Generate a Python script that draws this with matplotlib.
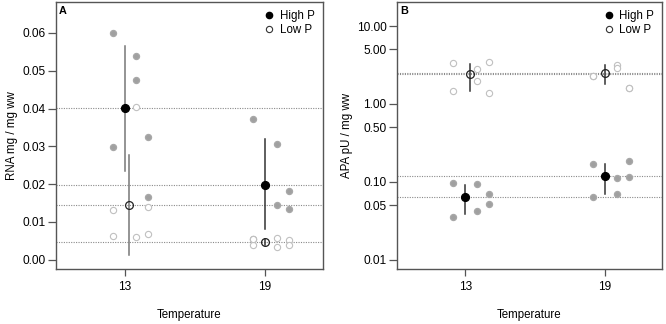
import matplotlib
matplotlib.use('Agg')
import matplotlib.pyplot as plt
from matplotlib.ticker import FixedLocator, FixedFormatter
import numpy as np

plt.rcParams['font.family'] = ['Liberation Sans', 'DejaVu Sans']
plt.rcParams['font.size'] = 8.6

# x positions of temperature groups and their labels
temps = ['13', '19']
temp_pos = [1, 2]
jitter = [-0.085, -0.085, 0.085, 0.085, 0.17, 0.17]

# Panel A: RNA mg / mg ww (individual replicates)
rna_high = [[0.0599, 0.0299, 0.0539, 0.0475, 0.0325, 0.0166],
            [0.0373, 0.0055, 0.0306, 0.0146, 0.0182, 0.0135]]
rna_low = [[0.0131, 0.0063, 0.0405, 0.0059, 0.0140, 0.0069],
           [0.0038, 0.0056, 0.0057, 0.0034, 0.0053, 0.0038]]
rna_high_mean = [0.0401, 0.0199]
rna_high_err = [(0.0235, 0.0565), (0.0081, 0.0319)]
rna_low_mean = [0.0145, 0.0046]
rna_low_err = [(0.0012, 0.0276), (0.0038, 0.0054)]

# Panel B: APA pU / mg ww
apa_high = [[0.0964, 0.0357, 0.0936, 0.0418, 0.069, 0.0519],
            [0.1675, 0.0631, 0.1107, 0.069, 0.183, 0.114]]
apa_low = [[3.35, 1.46, 2.83, 1.95, 3.42, 1.38],
           [2.26, 2.28, 3.19, 2.89, 1.61, 1.62]]
apa_high_mean = [0.0644, 0.1186]
apa_high_err = [(0.039, 0.090), (0.069, 0.1675)]
apa_low_mean = [2.40, 2.46]
apa_low_err = [(1.46, 3.28), (1.78, 3.12)]

# offset of the low-P mean marker at each temperature
low_shift = [0.033, 0.0]

fig = plt.figure(figsize=(6.66, 3.24), dpi=100)
axA = fig.add_axes([0.0836, 0.1698, 0.4009, 0.824])
axB = fig.add_axes([0.596, 0.1698, 0.398, 0.824])


def draw_panel(ax, high, low, hmean, herr, lmean, lerr, bar_cols):
    for i, x0 in enumerate(temp_pos):
        xs = [x0 + j for j in jitter]
        ax.plot(xs, high[i], 'o', ms=4.3, mfc='#a0a0a0', mec='#a8a8a8', zorder=2)
        ax.plot(xs, low[i], 'o', ms=4.5, mfc='white', mec='#c0c0c0', mew=0.8, zorder=2)
    for i, x0 in enumerate(temp_pos):
        ax.axhline(hmean[i], color='#8a8a8a', ls=(0, (1, 1.2)), lw=0.8, zorder=1)
        ax.axhline(lmean[i], color='#8a8a8a', ls=(0, (1, 1.2)), lw=0.8, zorder=1)
        ax.plot([x0, x0], herr[i], color=bar_cols[i], lw=1.1, zorder=3)
        xl = x0 + low_shift[i]
        ax.plot([xl, xl], lerr[i], color=bar_cols[i], lw=1.1, zorder=3)
        ax.plot(x0, hmean[i], 'o', ms=5.6, mfc='black', mec='black', zorder=4)
        ax.plot(xl, lmean[i], 'o', ms=5.6, mfc='none', mec='#222222', mew=0.9, zorder=4)
    ax.set_xlim(0.51, 2.41)
    ax.set_xticks(temp_pos)
    ax.set_xticklabels(temps)
    ax.set_xlabel('Temperature', labelpad=11, fontsize=8.3)
    for s in ax.spines.values():
        s.set_color('#555555')
        s.set_linewidth(1.0)
    ax.tick_params(axis='x', direction='out', length=5, width=0.9, color='#555555', pad=4)
    ax.tick_params(axis='y', direction='out', length=5.5, width=0.9, color='#555555', pad=2)
    ax.plot([], [], 'o', ms=4.5, mfc='black', mec='black', label='High P')
    ax.plot([], [], 'o', ms=4.5, mfc='none', mec='#333333', mew=0.8, label='Low P')
    ax.legend(loc='upper right', frameon=False, handlelength=0.6, handletextpad=0.6,
              borderaxespad=0.3, labelspacing=0.15, fontsize=8.3)


draw_panel(axA, rna_high, rna_low, rna_high_mean, rna_high_err,
           rna_low_mean, rna_low_err, ['#777777', '#333333'])
axA.set_ylim(-0.00246, 0.0682)
axA.set_yticks(np.arange(0, 0.061, 0.01))
axA.set_yticklabels(['0.00', '0.01', '0.02', '0.03', '0.04', '0.05', '0.06'])
axA.set_ylabel('RNA mg / mg ww', labelpad=3, fontsize=8.3)
axA.text(0.012, 0.985, 'A', transform=axA.transAxes, fontweight='bold',
         va='top', ha='left', fontsize=7.8)

draw_panel(axB, apa_high, apa_low, apa_high_mean, apa_high_err,
           apa_low_mean, apa_low_err, ['#333333', '#333333'])
axB.set_yscale('log')
axB.set_ylim(10 ** -2.119, 10 ** 1.308)
ylog = [0.01, 0.05, 0.1, 0.5, 1.0, 5.0, 10.0]
axB.yaxis.set_major_locator(FixedLocator(ylog))
axB.yaxis.set_major_formatter(FixedFormatter(['%.2f' % v for v in ylog]))
axB.yaxis.set_minor_locator(FixedLocator([]))
axB.set_ylabel('APA pU / mg ww', labelpad=3, fontsize=8.3)
axB.text(0.012, 0.985, 'B', transform=axB.transAxes, fontweight='bold',
         va='top', ha='left', fontsize=7.8)

fig.savefig('out.png', dpi=100)
